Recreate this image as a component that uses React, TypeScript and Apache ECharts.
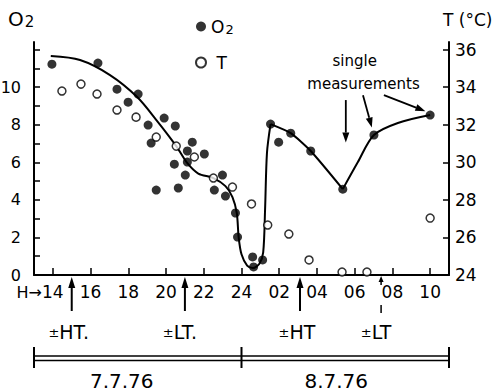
import React, { useEffect, useRef } from "react";
import * as echarts from "echarts";

// Hours since midnight of 7.7.76 (values > 24 belong to 8.7.76)
const hourTicks = [14, 16, 18, 20, 22, 24, 26, 28, 30, 32, 34];
const o2TickValues = [0, 1, 2, 3, 4, 5, 6, 7, 8, 9, 10, 11, 12];
const o2LabelValues = [0, 2, 4, 6, 8, 10];
const tTickValues = [24, 26, 28, 30, 32, 34, 36];

// O2 measurements (filled dots)
const o2Hours = [13.95, 16.39, 17.4, 18.52, 17.99, 19.05, 19.9, 19.21, 20.49, 21.39, 21.13, 22.03, 20.44, 21.13, 21.02, 22.99, 19.48, 20.65, 22.56, 23.15, 23.68, 23.79, 24.59, 24.64, 25.12, 25.54, 25.97, 26.61, 27.67, 29.37, 31.02, 34.0];
const o2Values = [11.22, 11.28, 9.89, 9.63, 9.2, 7.98, 8.35, 7.02, 7.93, 7.07, 6.6, 6.44, 5.9, 6.01, 5.32, 5.32, 4.52, 4.63, 4.52, 4.2, 3.3, 2.02, 0.96, 0.43, 0.8, 8.03, 7.07, 7.55, 6.6, 4.57, 7.45, 8.51];

// Temperature measurements (open circles)
const tHours = [14.48, 15.49, 16.34, 17.4, 18.41, 19.48, 20.54, 21.5, 22.51, 23.52, 24.53, 25.39, 26.51, 27.58, 29.33, 30.65, 34.0];
const tValues = [33.79, 34.16, 33.63, 32.78, 32.4, 31.34, 30.86, 30.28, 29.16, 28.68, 27.78, 26.66, 26.18, 24.8, 24.16, 24.16, 27.03];

// Fitted O2 curve, in three pieces (sharp corners between them)
const curveDropHours = [13.89, 15.44, 17.03, 18.47, 19.53, 20.54, 21.13, 21.71, 22.51, 23.15, 23.52, 23.75, 23.85, 24.0, 24.3, 24.6, 24.95, 25.15, 25.25, 25.35, 25.54];
const curveDropValues = [11.65, 11.44, 10.64, 9.47, 8.19, 6.86, 5.95, 5.4, 5.16, 4.73, 4.15, 3.3, 2.0, 1.1, 0.5, 0.37, 0.6, 1.2, 3.5, 6.5, 8.03];
const curveFallHours = [25.54, 26.61, 27.67, 29.37];
const curveFallValues = [8.03, 7.55, 6.6, 4.57];
const curveRiseHours = [29.37, 30.17, 31.02, 32.29, 34.0];
const curveRiseValues = [4.57, 6.01, 7.45, 8.09, 8.51];

// Tide marks below the time axis
const highTideHours = [15.0, 27.1];
const lowTideHours = [21.0, 31.4];
const dateLabels = ["7.7.76", "8.7.76"];
const dayBounds = [13, 24, 35];

const FONT = "DejaVu Sans";

const zip = (xs: number[], ys: number[]) => xs.map((x, i) => [x, ys[i]]);

export default function App() {
  const ref = useRef<HTMLDivElement>(null);
  useEffect(() => {
    if (!ref.current) return;
    const chart = echarts.init(ref.current, null, { renderer: "svg" });
    const lineStyle = { color: "#000", width: 2 };
    const curveSeries = (data: number[][], smooth: number) => ({
      type: "line",
      data,
      smooth,
      symbol: "none",
      lineStyle,
      z: 1,
      silent: true,
    });
    chart.setOption({
      animation: false,
      backgroundColor: "#fff",
      textStyle: { fontFamily: FONT, color: "#000" },
      grid: { left: 34, right: 51, top: 42, bottom: 117, outerBoundsMode: "none" },
      legend: {
        data: ["O2", "T"],
        orient: "vertical",
        left: 190,
        top: 13,
        itemWidth: 10,
        itemHeight: 10,
        itemGap: 18,
        textStyle: {
          fontFamily: FONT,
          fontSize: 17,
          color: "#000",
          rich: {
            o: { fontFamily: FONT, fontSize: 17, color: "#000" },
            s: { fontFamily: FONT, fontSize: 13, color: "#000", verticalAlign: "bottom", padding: [6, 0, 0, 1] },
          },
        },
        formatter: (name: string) => (name === "O2" ? "{o|O}{s|2}" : " T"),
      },
      xAxis: {
        type: "value",
        min: 13,
        max: 35,
        splitLine: { show: false },
        axisLine: { lineStyle: { color: "#000", width: 2 } },
        axisTick: { inside: true, length: 7, customValues: hourTicks, lineStyle: { color: "#000", width: 1.5 } },
        axisLabel: {
          customValues: hourTicks,
          margin: 8,
          fontSize: 17,
          fontFamily: FONT,
          color: "#000",
          formatter: (v: number) => (v <= 24 ? String(v) : String(v - 24).padStart(2, "0")),
        },
      },
      yAxis: [
        {
          type: "value",
          min: 0,
          max: 12.4,
          splitLine: { show: false },
          axisLine: { show: true, lineStyle: { color: "#000", width: 2 } },
          axisTick: { show: true, inside: true, length: 6, customValues: o2TickValues, lineStyle: { color: "#000", width: 1.5 } },
          axisLabel: { customValues: o2LabelValues, margin: 13, fontSize: 16, fontFamily: FONT, color: "#000" },
        },
        {
          type: "value",
          position: "right",
          min: 24,
          max: 36.4,
          splitLine: { show: false },
          axisLine: { show: true, lineStyle: { color: "#000", width: 2 } },
          axisTick: { show: true, inside: true, length: 6, customValues: tTickValues, lineStyle: { color: "#000", width: 1.5 } },
          axisLabel: { customValues: tTickValues, margin: 6, fontSize: 17, fontFamily: FONT, color: "#000" },
        },
      ],
      series: [
        curveSeries(zip(curveDropHours, curveDropValues), 0.3),
        curveSeries(zip(curveFallHours, curveFallValues), 0.2),
        curveSeries(zip(curveRiseHours, curveRiseValues), 0.3),
        {
          name: "O2",
          type: "scatter",
          data: zip(o2Hours, o2Values),
          symbol: "circle",
          symbolSize: 9,
          itemStyle: { color: "#000" },
          z: 3,
        },
        {
          name: "T",
          type: "scatter",
          yAxisIndex: 1,
          data: zip(tHours, tValues),
          symbol: "circle",
          symbolSize: 8,
          itemStyle: { color: "#fff", borderColor: "#000", borderWidth: 1.5 },
          z: 3,
        },
      ],
    });

    const px = (h: number, v: number) => chart.convertToPixel({ xAxisIndex: 0, yAxisIndex: 0 } as any, [h, v]) as number[];
    const xpx = (h: number) => chart.convertToPixel({ xAxisIndex: 0 } as any, h) as number;

    const arrow = (x1: number, y1: number, x2: number, y2: number, head = 10, half = 3.5, lw = 2) => {
      const dx = x2 - x1, dy = y2 - y1;
      const len = Math.hypot(dx, dy);
      const ux = dx / len, uy = dy / len;
      const bx = x2 - ux * head, by = y2 - uy * head;
      return [
        { type: "line", shape: { x1, y1, x2: bx, y2: by }, style: { stroke: "#000", lineWidth: lw }, silent: true },
        {
          type: "polygon",
          shape: { points: [[x2, y2], [bx - uy * half, by + ux * half], [bx + uy * half, by - ux * half]] },
          style: { fill: "#000" },
          silent: true,
        },
      ];
    };

    const g: any[] = [];
    // Axis titles
    g.push({
      type: "text",
      left: 8,
      top: 9,
      style: {
        text: "{o|O}{s|2}",
        rich: {
          o: { fontFamily: FONT, fontSize: 20, fill: "#000" },
          s: { fontFamily: FONT, fontSize: 15, fill: "#000", padding: [5, 0, 0, 1] },
        },
      },
    });
    g.push({ type: "text", x: 443, y: 11, style: { text: "T (°C)", fontFamily: FONT, fontSize: 17, fill: "#000" } });
    // H→ before first hour label
    g.push({
      type: "text",
      x: xpx(14) - 11,
      y: 292,
      style: { text: "H→", fontFamily: FONT, fontSize: 16, fill: "#000", align: "right", verticalAlign: "middle" },
    });

    // "single measurements"
    const s1 = px(30.0, 11.38);
    const s2 = px(30.47, 10.16);
    g.push({ type: "text", x: s1[0], y: s1[1], style: { text: "single", fontFamily: FONT, fontSize: 15, fill: "#000", align: "center", verticalAlign: "middle" } });
    g.push({ type: "text", x: s2[0], y: s2[1], style: { text: "measurements", fontFamily: FONT, fontSize: 15, fill: "#000", align: "center", verticalAlign: "middle" } });
    const arrowsData = [
      [29.53, 9.31, 29.53, 7.05],
      [30.44, 9.57, 30.91, 7.85],
      [31.55, 9.57, 33.75, 8.72],
    ];
    arrowsData.forEach(([h1, v1, h2, v2]) => {
      const a = px(h1, v1), b = px(h2, v2);
      g.push(...arrow(a[0], a[1], b[0], b[1], 10, 3.5, 1.8));
    });

    // Tide arrows below the axis
    highTideHours.forEach((h, i) => {
      const x = xpx(h);
      g.push(...arrow(x, 311, x, 277, 11, 3.5, 2));
      g.push({
        type: "text",
        x: x - 3,
        y: 332,
        style: {
          text: i === 0 ? "{p|±}{t|HT.}" : "{p|±}{t|HT}",
          align: "center",
          verticalAlign: "middle",
          rich: {
            p: { fontFamily: FONT, fontSize: 13, fill: "#000" },
            t: { fontFamily: FONT, fontSize: 19, fill: "#000" },
          },
        },
      });
    });
    lowTideHours.forEach((h, i) => {
      const x = xpx(h);
      if (i === 0) {
        g.push(...arrow(x, 311, x, 277, 11, 3.5, 2));
      } else {
        g.push(...arrow(x, 285, x, 276, 6, 2.5, 1.5));
        g.push({ type: "line", shape: { x1: x, y1: 305, x2: x, y2: 313 }, style: { stroke: "#000", lineWidth: 1.5 } });
      }
      g.push({
        type: "text",
        x: x - 5,
        y: 332,
        style: {
          text: i === 0 ? "{p|±}{t|LT.}" : "{p|±}{t|LT}",
          align: "center",
          verticalAlign: "middle",
          rich: {
            p: { fontFamily: FONT, fontSize: 13, fill: "#000" },
            t: { fontFamily: FONT, fontSize: 19, fill: "#000" },
          },
        },
      });
    });

    // Date bar
    const bx = dayBounds.map(xpx);
    g.push({ type: "line", shape: { x1: bx[0], y1: 356, x2: bx[2], y2: 356 }, style: { stroke: "#000", lineWidth: 1.5 } });
    g.push({ type: "line", shape: { x1: bx[0], y1: 360.5, x2: bx[2], y2: 360.5 }, style: { stroke: "#000", lineWidth: 1.5 } });
    bx.forEach((x) => {
      g.push({ type: "line", shape: { x1: x, y1: 347, x2: x, y2: 368 }, style: { stroke: "#000", lineWidth: 2 } });
    });
    dateLabels.forEach((t, i) => {
      const cx = (bx[i] + bx[i + 1]) / 2 - (i === 0 ? 16 : 9);
      g.push({
        type: "text",
        x: cx,
        y: 381,
        style: { text: t, fontFamily: FONT, fontSize: 20, fill: "#000", align: "center", verticalAlign: "middle" },
      });
    });

    chart.setOption({ graphic: g });
    return () => chart.dispose();
  }, []);
  return <div ref={ref} style={{ position: "fixed", left: 0, top: 0, width: 500, height: 392, background: "#fff" }} />;
}
